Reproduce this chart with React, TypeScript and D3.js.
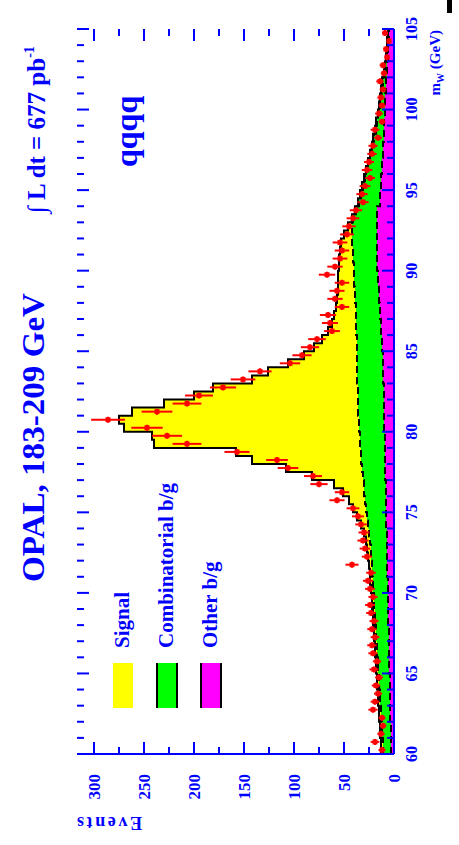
import React from "react";
import * as d3 from "d3";

// Reconstructed W mass spectrum, qqqq channel; page is laid out landscape and turned 90°.
const PAGE_W = 459;
const PAGE_H = 845;

const MASS_MIN = 60;
const MASS_MAX = 105;
const BIN_WIDTH = 0.5;

// Events per 0.5 GeV bin, 60 -> 105 GeV
const mcTotal = [
  13, 13, 14, 14, 15, 15, 16, 16, 17, 17,
  18, 18, 19, 19, 20, 20, 21, 21, 22, 22,
  23, 24, 24, 25, 26, 27, 28, 30, 33, 37,
  41, 45, 51, 60, 82, 108, 142, 158, 240, 242,
  270, 275, 262, 230, 200, 181, 142, 126, 106, 90,
  80, 72, 66, 62, 60, 58, 57, 56, 56, 56,
  55, 55, 54, 53, 50, 46, 42, 39, 36, 34,
  32, 30, 28, 26, 24, 22, 21, 19, 18, 16,
  15, 14, 13, 12, 10, 9, 8, 7, 7, 6,
];

// Combinatorial + other background
const bkgTotal = [
  11, 11, 12, 12, 13, 13, 14, 14, 15, 15,
  16, 16, 17, 17, 18, 18, 19, 19, 20, 20,
  21, 21, 22, 22, 23, 23, 24, 25, 26, 27,
  28, 29, 30, 30, 31, 32, 33, 33, 34, 34,
  35, 35, 36, 36, 36, 36, 37, 37, 37, 37,
  37, 37, 38, 38, 38, 38, 39, 39, 40, 40,
  40, 41, 41, 42, 42, 42, 41, 38, 35, 33,
  31, 29, 27, 25, 23, 21, 20, 18, 17, 16,
  14, 13, 12, 11, 10, 9, 8, 7, 7, 6,
];

const otherBkg = [
  3, 3, 3, 3, 4, 4, 4, 4, 4, 4,
  5, 5, 5, 5, 5, 5, 6, 6, 6, 6,
  6, 6, 7, 7, 7, 7, 7, 7, 8, 8,
  8, 8, 8, 8, 9, 9, 9, 9, 9, 9,
  10, 10, 10, 10, 10, 10, 11, 11, 11, 11,
  12, 12, 13, 13, 14, 14, 15, 15, 16, 16,
  17, 17, 17, 17, 17, 17, 17, 17, 14, 14,
  13, 13, 12, 12, 11, 11, 10, 10, 10, 9,
  9, 9, 8, 8, 7, 7, 6, 6, 5, 5,
];

const dataCounts = [
  12, 19, 13, 11, 12, 21, 19, 16, 18, 15,
  20, 17, 21, 22, 19, 22, 20, 23, 24, 21,
  24, 26, 23, 42, 27, 29, 31, 30, 33, 36,
  41, 57, 52, 75, 81, 106, 117, 157, 207, 227,
  247, 286, 237, 207, 195, 171, 151, 134, 104, 92,
  84, 77, 62, 64, 66, 52, 59, 57, 52, 67,
  59, 54, 52, 54, 47, 45, 41, 38, 31, 32,
  29, 24, 27, 25, 22, 21, 16, 19, 12, 15,
  12, 13, 11, 14, 10, 11, 7, 8, 5, 9,
];

const massTickLabels = [60, 65, 70, 75, 80, 85, 90, 95, 100, 105];
const eventTickLabels = [0, 50, 100, 150, 200, 250, 300];

const legendItems = [
  { label: "Signal", fill: "#ffff00", outline: false },
  { label: "Combinatorial b/g", fill: "#00ff00", outline: true },
  { label: "Other b/g", fill: "#ff00ff", outline: true },
];

const BLUE = "#0000ff";
const FONT = "'Liberation Serif', 'DejaVu Serif', serif";

export default function App() {
  // Chart is built in its natural orientation (u across, v down) and rotated.
  const x = d3.scaleLinear().domain([MASS_MIN, MASS_MAX]).range([91, 816]);
  const y = d3.scaleLinear().domain([0, 317]).range([394, 77]);

  const lowEdges = d3.range(MASS_MIN, MASS_MAX, BIN_WIDTH);
  const steps = (vals: number[]) => [
    ...lowEdges.map((m, i) => [m, vals[i]] as [number, number]),
    [MASS_MAX, vals[vals.length - 1]] as [number, number],
  ];

  const area = d3
    .area<[number, number]>()
    .x((d) => x(d[0]))
    .y0(y(0))
    .y1((d) => y(d[1]))
    .curve(d3.curveStepAfter);
  const line = d3
    .line<[number, number]>()
    .x((d) => x(d[0]))
    .y((d) => y(d[1]))
    .curve(d3.curveStepAfter);

  const massTicks = d3.range(MASS_MIN, MASS_MAX + 0.001, 1);
  const eventTicks = d3.range(0, 317, 25);
  const x0 = x(MASS_MIN);
  const x1 = x(MASS_MAX);
  const yTop = y(317);

  return (
    <svg
      width={PAGE_W}
      height={PAGE_H}
      style={{ position: "absolute", left: 0, top: 0, display: "block", background: "#fff" }}
    >
      <rect x={447} y={0} width={5} height={13} fill="#000" />
      <g transform={`translate(0,${PAGE_H}) rotate(-90)`} fontFamily={FONT} fontWeight="bold">
        {/* stacked histograms */}
        <path d={area(steps(mcTotal)) || ""} fill="#ffff00" />
        <path d={area(steps(bkgTotal)) || ""} fill="#00ff00" />
        <path d={area(steps(otherBkg)) || ""} fill="#ff00ff" />
        <path d={line(steps(otherBkg)) || ""} fill="none" stroke="#000" strokeWidth={2} strokeDasharray="7,4" />
        <path d={line(steps(bkgTotal)) || ""} fill="none" stroke="#000" strokeWidth={2} strokeDasharray="7,4" />
        <path d={line(steps(mcTotal)) || ""} fill="none" stroke="#000" strokeWidth={2} />

        {/* data points */}
        {dataCounts.map((n, i) => {
          const m = lowEdges[i] + BIN_WIDTH / 2;
          const cx = x(m);
          const err = Math.sqrt(n);
          return (
            <g key={`d${i}`} stroke="#ff0000" strokeWidth={2}>
              <line x1={cx} x2={cx} y1={y(n - err)} y2={y(n + err)} />
              <line x1={cx - 3} x2={cx + 3} y1={y(n)} y2={y(n)} />
              <rect x={cx - 2.5} y={y(n) - 2.5} width={5} height={5} fill="#ff0000" stroke="none" />
            </g>
          );
        })}

        {/* axes */}
        <line x1={x0} x2={x1} y1={y(0)} y2={y(0)} stroke={BLUE} strokeWidth={2} />
        <line x1={x0} x2={x0} y1={y(0)} y2={yTop} stroke={BLUE} strokeWidth={2} />
        {massTicks.map((m) => {
          const len = m % 5 === 0 ? 12 : 7;
          return (
            <g key={`mt${m}`} stroke={BLUE} strokeWidth={2}>
              <line x1={x(m)} x2={x(m)} y1={y(0)} y2={y(0) - len} />
              <line x1={x(m)} x2={x(m)} y1={yTop} y2={yTop + len} />
            </g>
          );
        })}
        {eventTicks.map((e) => {
          const len = e % 50 === 0 ? 12 : 7;
          return (
            <g key={`et${e}`} stroke={BLUE} strokeWidth={2}>
              <line x1={x0} x2={x0 + len} y1={y(e)} y2={y(e)} />
              <line x1={x1} x2={x1 - len} y1={y(e)} y2={y(e)} />
            </g>
          );
        })}
        {massTickLabels.map((m) => (
          <text key={`ml${m}`} x={x(m)} y={417} textAnchor="middle" fontSize={16} fill={BLUE}>
            {m}
          </text>
        ))}
        {eventTickLabels.map((e) => (
          <text key={`el${e}`} x={71} y={y(e)} dy="0.35em" textAnchor="end" fontSize={17} fill={BLUE}>
            {e}
          </text>
        ))}
        <text x={815} y={440} textAnchor="end" fontSize={15} fill={BLUE}>
          m
          <tspan fontSize={10} dy={4}>W</tspan>
          <tspan dy={-4}> (GeV)</tspan>
        </text>
        <text transform="translate(28,77) rotate(-90)" textAnchor="end" fontSize={18} fill={BLUE} textLength={65}>
          Events
        </text>

        {/* titles */}
        <text x={263} y={44} fontSize={32} fill={BLUE} textLength={289} lengthAdjust="spacingAndGlyphs">
          OPAL, 183-209 GeV
        </text>
        <text x={632} y={45} fontSize={25} fill={BLUE}>
          ∫ L dt = 677 pb
          <tspan fontSize={14} dy={-11}>-1</tspan>
        </text>
        <text x={678} y={137} fontSize={32} fill={BLUE}>
          qqqq
        </text>

        {/* legend */}
        {legendItems.map((item, i) => {
          const top = 113 + i * 44;
          return (
            <g key={item.label}>
              <rect x={137} y={top} width={45} height={20} fill={item.fill} />
              {item.outline && (
                <>
                  <line x1={137} x2={182} y1={top} y2={top} stroke="#000" strokeWidth={2} />
                  <line x1={137} x2={182} y1={top + 20} y2={top + 20} stroke="#000" strokeWidth={2} />
                </>
              )}
              <text x={197} y={top + 16} fontSize={21} fill={BLUE}>
                {item.label}
              </text>
            </g>
          );
        })}
      </g>
    </svg>
  );
}
